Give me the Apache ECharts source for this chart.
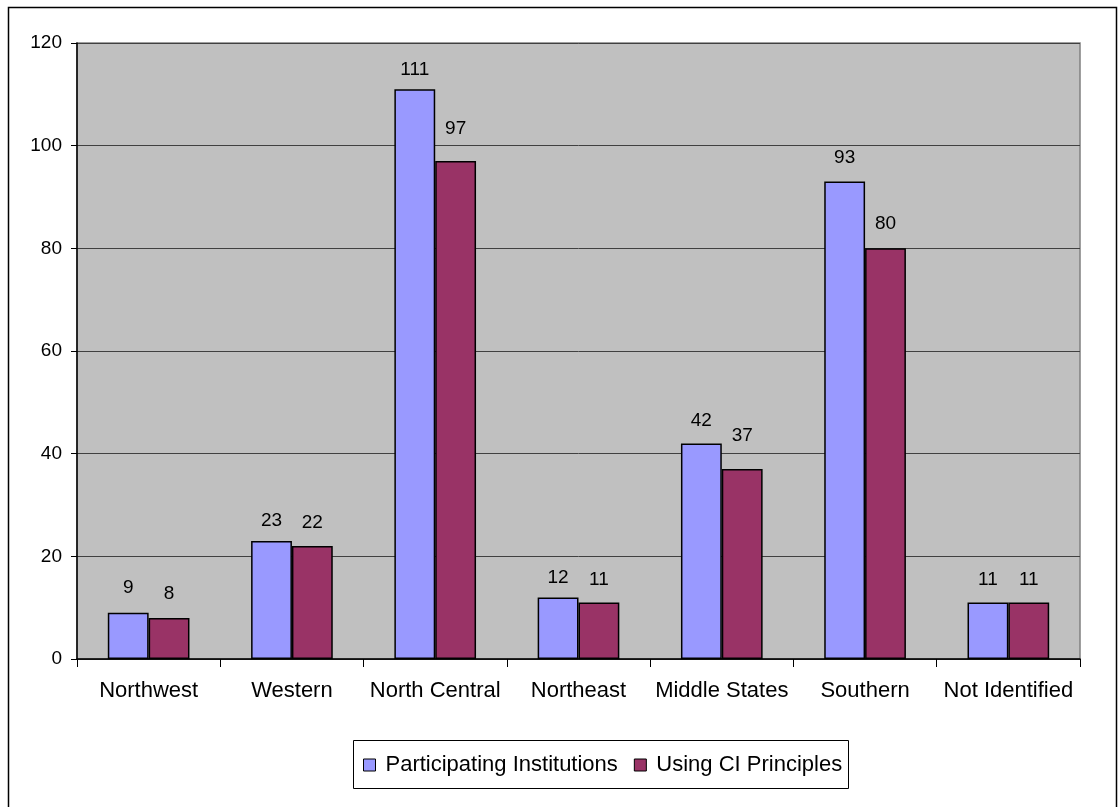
<!DOCTYPE html>
<html>
<head>
<meta charset="utf-8">
<script src="https://cdn.jsdelivr.net/npm/echarts@6/dist/echarts.min.js"></script>
<style>
  html, body { margin: 0; padding: 0; background: #fff; }
  #chart { width: 1120px; height: 807px; }
</style>
</head>
<body>
<div id="chart"></div>
<script>
// Regions and counts per region
const regions = ['Northwest', 'Western', 'North Central', 'Northeast', 'Middle States', 'Southern', 'Not Identified'];
const participating = [9, 23, 111, 12, 42, 93, 11];
const usingCI = [8, 22, 97, 11, 37, 80, 11];
const seriesNames = ['Participating Institutions', 'Using CI Principles'];
const yTicks = { min: 0, max: 120, interval: 20 };

const font = 'Liberation Sans, Arial, sans-serif';

// Gap between a bar top and its value label, per series and region
const labelGaps = [
  [16, 11, 10, 10, 13, 14, 13],
  [15, 14, 23, 13, 24, 15, 13]
];

function withLabels(values, gaps) {
  return values.map((v, i) => ({ value: v, label: { distance: gaps[i] } }));
}

const chart = echarts.init(document.getElementById('chart'), null, { renderer: 'canvas' });

const labelStyle = {
  show: true,
  position: 'top',
  color: '#000',
  fontFamily: font,
  fontSize: 19
};

chart.setOption({
  animation: false,
  backgroundColor: '#fff',
  textStyle: { fontFamily: font },
  graphic: [
    {
      type: 'rect',
      shape: { x: 8.5, y: 7.5, width: 1108, height: 810 },
      style: { fill: 'none', stroke: '#000', lineWidth: 1.5 },
      silent: true,
      z: -1
    },
    {
      type: 'rect',
      shape: { x: 353.5, y: 740.5, width: 495, height: 48 },
      style: { fill: '#fff', stroke: '#000', lineWidth: 1 },
      silent: true,
      z: 0
    }
  ],
  legend: {
    data: seriesNames,
    top: 754,
    left: 363,
    padding: 0,
    itemWidth: 12,
    itemHeight: 12,
    itemGap: 16,
    icon: 'rect',
    textStyle: { fontFamily: font, fontSize: 22, color: '#000', padding: [0, 0, 0, 5] },
    itemStyle: { borderColor: '#000', borderWidth: 1 },
    z: 5
  },
  grid: {
    left: 77,
    top: 43,
    right: 40,
    bottom: 148,
    show: true,
    backgroundColor: '#C0C0C0',
    borderColor: '#808080',
    borderWidth: 1.5
  },
  xAxis: {
    type: 'category',
    data: regions,
    axisLine: { lineStyle: { color: '#000', width: 1.5 } },
    axisTick: { show: true, interval: 0, length: 8, lineStyle: { color: '#000' } },
    axisLabel: { interval: 0, color: '#000', fontSize: 22, fontFamily: font, margin: 21 }
  },
  yAxis: {
    type: 'value',
    min: yTicks.min,
    max: yTicks.max,
    interval: yTicks.interval,
    axisLine: { show: true, lineStyle: { color: '#000', width: 1.5 } },
    axisTick: { show: true, length: 6, lineStyle: { color: '#000' } },
    axisLabel: { color: '#000', fontSize: 19, fontFamily: font, margin: 15 },
    splitLine: { lineStyle: { color: '#404040', width: 1 } }
  },
  series: [
    {
      name: seriesNames[0],
      type: 'bar',
      data: withLabels(participating, labelGaps[0]),
      barGap: '0%',
      barCategoryGap: '43%',
      itemStyle: { color: '#9999FF', borderColor: '#000', borderWidth: 1.5 },
      label: labelStyle
    },
    {
      name: seriesNames[1],
      type: 'bar',
      data: withLabels(usingCI, labelGaps[1]),
      itemStyle: { color: '#993366', borderColor: '#000', borderWidth: 1.5 },
      label: labelStyle
    }
  ]
});
</script>
</body>
</html>
